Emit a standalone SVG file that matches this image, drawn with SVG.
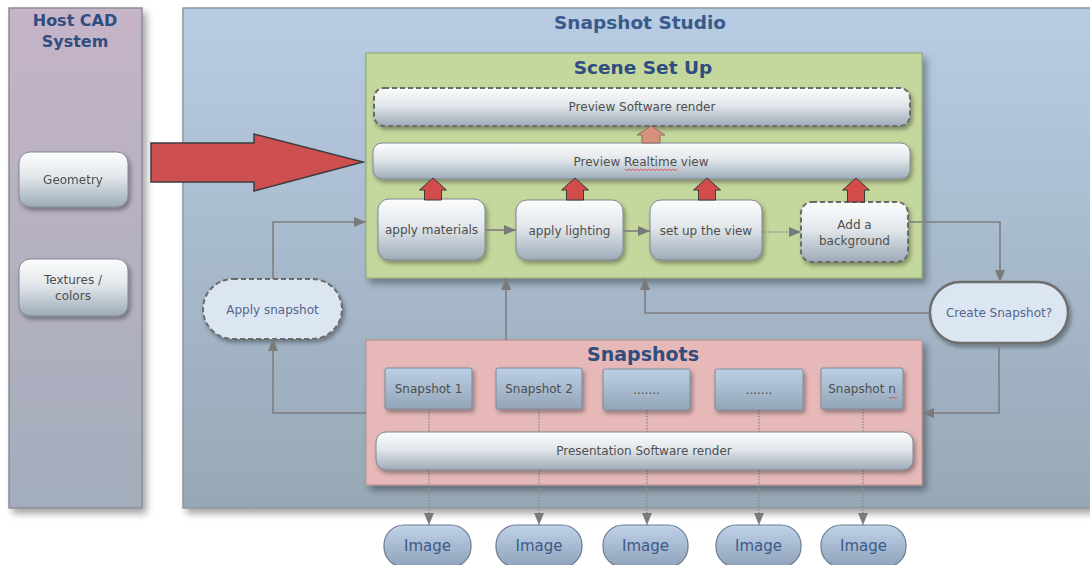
<svg xmlns="http://www.w3.org/2000/svg" width="1090" height="565" viewBox="0 0 1090 565">
<defs>
<linearGradient id="gHost" x1="0" y1="0" x2="0" y2="1"><stop offset="0" stop-color="#c6b4c8"/><stop offset="1" stop-color="#a3adbb"/></linearGradient>
<linearGradient id="gStudio" x1="0" y1="0" x2="0" y2="1"><stop offset="0" stop-color="#b8cce4"/><stop offset="1" stop-color="#97a8b5"/></linearGradient>
<linearGradient id="gNode" x1="0" y1="0" x2="0" y2="1"><stop offset="0" stop-color="#fcfdfd"/><stop offset="0.45" stop-color="#e2e7eb"/><stop offset="1" stop-color="#9dabb8"/></linearGradient>
<linearGradient id="gSnap" x1="0" y1="0" x2="0" y2="1"><stop offset="0" stop-color="#bccfe6"/><stop offset="1" stop-color="#93a5b7"/></linearGradient>
<linearGradient id="gImg" x1="0" y1="0" x2="0" y2="1"><stop offset="0" stop-color="#c0d2e8"/><stop offset="1" stop-color="#8fa2ba"/></linearGradient>
<filter id="shBig" x="-10%" y="-10%" width="130%" height="130%"><feDropShadow dx="4" dy="5" stdDeviation="3.5" flood-color="#000" flood-opacity="0.35"/></filter>
<filter id="sh" x="-10%" y="-10%" width="130%" height="140%"><feDropShadow dx="2" dy="3" stdDeviation="2" flood-color="#000" flood-opacity="0.35"/></filter>
<marker id="arr" markerUnits="userSpaceOnUse" markerWidth="12" markerHeight="10" refX="12" refY="5" orient="auto"><path d="M0,0 L12,5 L0,10 z" fill="#7a7a7a"/></marker>
<style>
.title{font-family:"DejaVu Sans",Verdana,sans-serif;font-weight:bold;fill:#2f4d7e;text-anchor:middle}
.t{font-family:"DejaVu Sans",Verdana,sans-serif;font-size:12px;fill:#4f4f4f;text-anchor:middle}
.tb{font-family:"DejaVu Sans",Verdana,sans-serif;font-size:12px;fill:#55668a;text-anchor:middle}
.ti{font-family:"DejaVu Sans",Verdana,sans-serif;font-size:15px;fill:#3b5a8a;text-anchor:middle}
.node{fill:url(#gNode);stroke:#7d8891;stroke-width:1}
.dash{stroke:#6a6a6a;stroke-width:2;stroke-dasharray:5,3}
.snap{fill:url(#gSnap);stroke:#7b8a99;stroke-width:1}
.img{fill:url(#gImg);stroke:#6b7c90;stroke-width:1.2}
.conn{fill:none;stroke:#7f7f7f;stroke-width:1.6}
.dot{fill:none;stroke:#8a8a8a;stroke-width:1.3;stroke-dasharray:1.5,1.5}
.house{fill:#d24c4c;stroke:#3a3a3a;stroke-width:1}
.wavy{fill:none;stroke:#e04040;stroke-width:0.8}
</style>
</defs>
<rect width="1090" height="565" fill="#ffffff"/>

<g id="host-cad">
<rect x="9" y="8" width="133" height="500" fill="url(#gHost)" stroke="#8a8d94" stroke-width="1.5" filter="url(#shBig)"/>
<text class="title" x="75" y="26" font-size="16">Host CAD</text>
<text class="title" x="75" y="47" font-size="16">System</text>
</g>

<g id="snapshot-studio">
<rect x="183" y="8" width="915" height="500" fill="url(#gStudio)" stroke="#8b98a4" stroke-width="1.5" filter="url(#shBig)"/>
<text class="title" x="640" y="29" font-size="18.5" style="fill:#3a5a8a">Snapshot Studio</text>
</g>

<g id="geometry" filter="url(#sh)">
<rect class="node" x="19" y="152" width="109" height="55" rx="11"/>
<text class="t" x="73" y="184">Geometry</text>
</g>

<g id="textures">
<rect class="node" x="19" y="259" width="109" height="57" rx="11" filter="url(#sh)"/>
<text class="t" x="73" y="284">Textures /</text>
<text class="t" x="73" y="300">colors</text>
</g>

<g id="cad-arrow">
<polygon points="151,143 254,143 254,134 363,162 254,191 254,182 151,182" fill="#cd4f4f" stroke="#3c3c3c" stroke-width="1.5"/>
</g>

<g id="scene-set-up">
<rect x="366" y="53" width="556" height="225" fill="#c4d79c" stroke="#9aaa7c" stroke-width="1.2" filter="url(#shBig)"/>
<text class="title" x="643" y="74" font-size="18.5">Scene Set Up</text>
</g>

<g id="preview-software">
<rect class="node dash" x="374" y="88" width="536" height="38" rx="10" filter="url(#sh)"/>
<text class="t" x="642" y="111">Preview Software render</text>
</g>

<g id="preview-realtime">
<rect class="node" x="373" y="143" width="537" height="36" rx="9" filter="url(#sh)"/>
<text class="t" x="641" y="166">Preview Realtime view</text>
<path class="wavy" d="M625,169 l2,1.5 l2,-1.5 l2,1.5 l2,-1.5 l2,1.5 l2,-1.5 l2,1.5 l2,-1.5 l2,1.5 l2,-1.5 l2,1.5 l2,-1.5 l2,1.5 l2,-1.5 l2,1.5 l2,-1.5 l2,1.5 l2,-1.5 l2,1.5 l2,-1.5 l2,1.5 l2,-1.5 l2,1.5 l2,-1.5 l2,1.5 l2,-1.5"/>
</g>

<g id="apply-materials">
<rect class="node" x="378" y="199" width="107" height="61" rx="11" filter="url(#sh)"/>
<text class="t" x="431.5" y="234">apply materials</text>
</g>
<g id="apply-lighting">
<rect class="node" x="516" y="200" width="107" height="60" rx="11" filter="url(#sh)"/>
<text class="t" x="569.5" y="235">apply lighting</text>
</g>
<g id="set-up-view">
<rect class="node" x="650" y="200" width="112" height="60" rx="11" filter="url(#sh)"/>
<text class="t" x="706" y="235">set up the view</text>
</g>
<g id="add-background">
<rect class="node dash" x="801" y="202" width="107" height="60" rx="11" filter="url(#sh)"/>
<text class="t" x="854.5" y="229">Add a</text>
<text class="t" x="854.5" y="245">background</text>
</g>

<g id="up-arrows">
<polygon class="house" points="433,178 446.5,190 441.5,190 441.5,200 424.5,200 424.5,190 419.5,190"/>
<polygon class="house" points="575,178 588.5,190 583.5,190 583.5,200 566.5,200 566.5,190 561.5,190"/>
<polygon class="house" points="707,178 720.5,190 715.5,190 715.5,200 698.5,200 698.5,190 693.5,190"/>
<polygon class="house" points="856,178 869.5,190 864.5,190 864.5,202 847.5,202 847.5,190 842.5,190"/>
<polygon points="651,126 665,135 660,135 660,143 642,143 642,135 637,135" fill="#d8917a" stroke="#8d6f60" stroke-width="1"/>
</g>

<g id="apply-snapshot">
<rect x="203" y="279" width="139" height="60" rx="30" fill="#dce6f2" class="dash" filter="url(#sh)"/>
<text class="tb" x="272.5" y="314">Apply snapshot</text>
</g>

<g id="create-snapshot">
<rect x="930" y="282" width="138" height="61" rx="30.5" fill="#dce6f2" stroke="#6e6e6e" stroke-width="2.5" filter="url(#sh)"/>
<text class="tb" x="999" y="317">Create Snapshot?</text>
</g>

<g id="snapshots">
<rect x="366" y="340" width="556" height="145" fill="#e6b8b8" stroke="#b89494" stroke-width="1.2" filter="url(#shBig)"/>
<text class="title" x="643" y="361" font-size="19">Snapshots</text>
</g>

<g id="connectors">
<line class="conn" x1="485" y1="230" x2="516" y2="230" marker-end="url(#arr)"/>
<line class="conn" x1="623" y1="231" x2="650" y2="231" marker-end="url(#arr)"/>
<line class="dot" x1="762" y1="232" x2="801" y2="232" marker-end="url(#arr)"/>
<path class="conn" d="M908,222 H1000 V282" marker-end="url(#arr)"/>
<path class="conn" d="M930,313 H645 V278" marker-end="url(#arr)"/>
<path class="conn" d="M506,340 V278" marker-end="url(#arr)"/>
<path class="conn" d="M999,343 V413 H922" marker-end="url(#arr)"/>
<path class="conn" d="M366,413 H273 V339" marker-end="url(#arr)"/>
<path class="conn" d="M273,279 V222 H366" marker-end="url(#arr)"/>
<line class="dot" x1="429" y1="409" x2="429" y2="432"/>
<line class="dot" x1="539" y1="409" x2="539" y2="432"/>
<line class="dot" x1="647" y1="410" x2="647" y2="432"/>
<line class="dot" x1="759" y1="410" x2="759" y2="432"/>
<line class="dot" x1="863" y1="409" x2="863" y2="432"/>
<line class="dot" x1="429" y1="470" x2="429" y2="525" marker-end="url(#arr)"/>
<line class="dot" x1="539" y1="470" x2="539" y2="525" marker-end="url(#arr)"/>
<line class="dot" x1="647" y1="470" x2="647" y2="525" marker-end="url(#arr)"/>
<line class="dot" x1="759" y1="470" x2="759" y2="525" marker-end="url(#arr)"/>
<line class="dot" x1="863" y1="470" x2="863" y2="525" marker-end="url(#arr)"/>
</g>

<g id="snapshot-1"><rect class="snap" x="385" y="368" width="87" height="41" rx="2" filter="url(#sh)"/><text class="t" x="428.5" y="393">Snapshot 1</text></g>
<g id="snapshot-2"><rect class="snap" x="496" y="368" width="86" height="41" rx="2" filter="url(#sh)"/><text class="t" x="539" y="393">Snapshot 2</text></g>
<g id="snapshot-3"><rect class="snap" x="603" y="369" width="87" height="41" rx="2" filter="url(#sh)"/><text class="t" x="646.5" y="394">.......</text></g>
<g id="snapshot-4"><rect class="snap" x="715" y="369" width="88" height="41" rx="2" filter="url(#sh)"/><text class="t" x="759" y="394">.......</text></g>
<g id="snapshot-n"><rect class="snap" x="821" y="368" width="82" height="41" rx="2" filter="url(#sh)"/><text class="t" x="862" y="393">Snapshot n</text>
<path class="wavy" d="M889,397 l2,1.5 l2,-1.5 l2,1.5 l2,-1.5"/></g>

<g id="presentation-render">
<rect class="node" x="376" y="432" width="537" height="38" rx="10" stroke="#6a6a6a" stroke-width="2" filter="url(#sh)"/>
<text class="t" x="644" y="455">Presentation Software render</text>
</g>

<g id="image-1"><rect class="img" x="384" y="525" width="87" height="42" rx="20"/><text class="ti" x="427.5" y="551">Image</text></g>
<g id="image-2"><rect class="img" x="496" y="525" width="86" height="42" rx="20"/><text class="ti" x="539" y="551">Image</text></g>
<g id="image-3"><rect class="img" x="603" y="525" width="85" height="42" rx="20"/><text class="ti" x="645.5" y="551">Image</text></g>
<g id="image-4"><rect class="img" x="716" y="525" width="85" height="42" rx="20"/><text class="ti" x="758.5" y="551">Image</text></g>
<g id="image-5"><rect class="img" x="821" y="525" width="85" height="42" rx="20"/><text class="ti" x="863.5" y="551">Image</text></g>
</svg>
